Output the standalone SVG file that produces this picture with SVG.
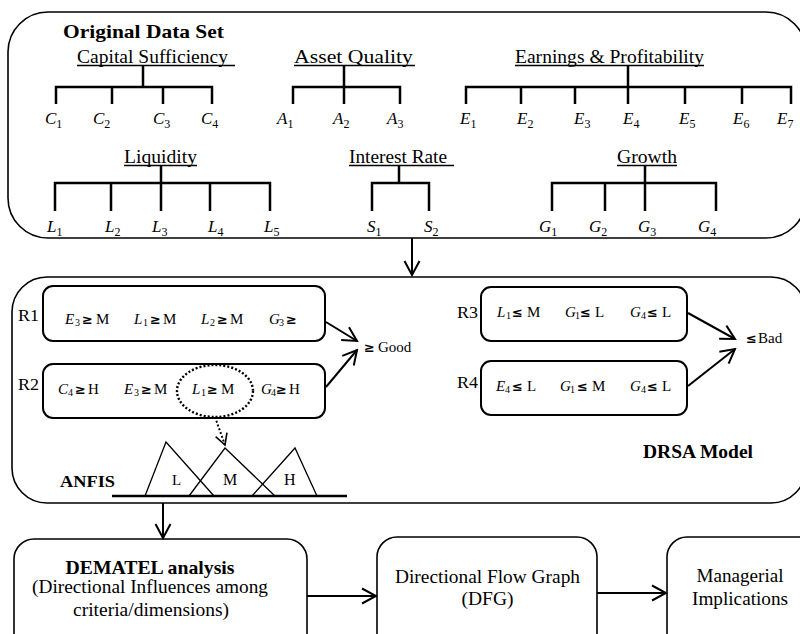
<svg xmlns="http://www.w3.org/2000/svg" width="800" height="634" viewBox="0 0 800 634" font-family="'Liberation Serif', 'DejaVu Serif', serif">
<defs>
<marker id="arr" viewBox="-16 -9 18 18" refX="0" refY="0" markerWidth="18" markerHeight="18" markerUnits="userSpaceOnUse" orient="auto">
<path d="M-14,-7.5 L0,0 L-14,7.5" fill="none" stroke="#000" stroke-width="2"/>
</marker>
<marker id="arrs" viewBox="-14 -8 16 16" refX="0" refY="0" markerWidth="16" markerHeight="16" markerUnits="userSpaceOnUse" orient="auto">
<path d="M-11,-6 L0,0 L-11,6" fill="none" stroke="#000" stroke-width="1.6"/>
</marker>
</defs>
<style>
text{fill:#000}
.t{font-size:18.5px}
.b{font-weight:bold}
.v{font-size:17px;font-style:italic}
.s{font-size:12px;font-style:normal}
.tree{stroke:#000;stroke-width:2.5;fill:none}
.ul{stroke:#000;stroke-width:1.3}
.box{fill:#fff;stroke:#000;stroke-width:1.6}
.rbox{fill:none;stroke:#000;stroke-width:2}
.rv{font-size:15px;font-style:italic}
.rs{font-size:10px;font-style:normal}
.rt{font-size:15px}
.op{font-family:"DejaVu Sans",sans-serif;font-weight:bold;font-size:13px}
.rl{font-size:17px}
.conn{stroke:#000;stroke-width:2;fill:none}
.tri{stroke:#000;stroke-width:1.3;fill:none}
.bt{font-size:19.5px}
</style>

<g id="original-data-set">
<rect class="box" x="8" y="12" width="798" height="226" rx="40"/>
<text class="b" x="63" y="38" font-size="19" textLength="161" lengthAdjust="spacingAndGlyphs">Original Data Set</text>
<text class="t" x="77" y="62.5" textLength="151" lengthAdjust="spacingAndGlyphs">Capital Sufficiency</text>
<line class="ul" x1="77" y1="65.5" x2="235" y2="65.5"/>
<text class="t" x="294" y="62.5" textLength="119" lengthAdjust="spacingAndGlyphs">Asset Quality</text>
<line class="ul" x1="294" y1="65.5" x2="415" y2="65.5"/>
<text class="t" x="515" y="62.5" textLength="189" lengthAdjust="spacingAndGlyphs">Earnings &amp; Profitability</text>
<line class="ul" x1="515" y1="65.5" x2="704" y2="65.5"/>
<text class="t" x="124" y="162.5" textLength="73" lengthAdjust="spacingAndGlyphs">Liquidity</text>
<line class="ul" x1="124" y1="165.5" x2="197" y2="165.5"/>
<text class="t" x="349" y="162.5" textLength="98" lengthAdjust="spacingAndGlyphs">Interest Rate</text>
<line class="ul" x1="349" y1="165.5" x2="454" y2="165.5"/>
<text class="t" x="617" y="162.5" textLength="60" lengthAdjust="spacingAndGlyphs">Growth</text>
<line class="ul" x1="617" y1="165.5" x2="677" y2="165.5"/>

<path class="tree" d="M143,66 V87 M56,104 V87 H212 V104 M112,87 V104 M163,87 V104"/>
<path class="tree" d="M344,66 V104 M293,104 V87 H400 V104"/>
<path class="tree" d="M628,66 V104 M466,104 V87 H791 V104 M521,87 V104 M575,87 V104 M685,87 V104 M742,87 V104"/>
<path class="tree" d="M161,166 V211 M55,211 V183 H270 V211 M111,183 V211 M210,183 V211"/>
<path class="tree" d="M399,166 V183 M372,211 V183 H429 V211"/>
<path class="tree" d="M645,166 V211 M552,211 V183 H716 V211 M605,183 V211"/>

<text class="v" x="45" y="124">C<tspan class="s" dy="3.5">1</tspan></text>
<text class="v" x="93" y="124">C<tspan class="s" dy="3.5">2</tspan></text>
<text class="v" x="153" y="124">C<tspan class="s" dy="3.5">3</tspan></text>
<text class="v" x="201" y="124">C<tspan class="s" dy="3.5">4</tspan></text>
<text class="v" x="277" y="124">A<tspan class="s" dy="3.5">1</tspan></text>
<text class="v" x="333" y="124">A<tspan class="s" dy="3.5">2</tspan></text>
<text class="v" x="387" y="124">A<tspan class="s" dy="3.5">3</tspan></text>
<text class="v" x="460" y="124">E<tspan class="s" dy="3.5">1</tspan></text>
<text class="v" x="517" y="124">E<tspan class="s" dy="3.5">2</tspan></text>
<text class="v" x="574" y="124">E<tspan class="s" dy="3.5">3</tspan></text>
<text class="v" x="623" y="124">E<tspan class="s" dy="3.5">4</tspan></text>
<text class="v" x="679" y="124">E<tspan class="s" dy="3.5">5</tspan></text>
<text class="v" x="733" y="124">E<tspan class="s" dy="3.5">6</tspan></text>
<text class="v" x="777" y="124">E<tspan class="s" dy="3.5">7</tspan></text>
<text class="v" x="47" y="232">L<tspan class="s" dy="3.5">1</tspan></text>
<text class="v" x="105" y="232">L<tspan class="s" dy="3.5">2</tspan></text>
<text class="v" x="152" y="232">L<tspan class="s" dy="3.5">3</tspan></text>
<text class="v" x="208" y="232">L<tspan class="s" dy="3.5">4</tspan></text>
<text class="v" x="264" y="232">L<tspan class="s" dy="3.5">5</tspan></text>
<text class="v" x="367" y="232">S<tspan class="s" dy="3.5">1</tspan></text>
<text class="v" x="424" y="232">S<tspan class="s" dy="3.5">2</tspan></text>
<text class="v" x="539" y="232">G<tspan class="s" dy="3.5">1</tspan></text>
<text class="v" x="589" y="232">G<tspan class="s" dy="3.5">2</tspan></text>
<text class="v" x="638" y="232">G<tspan class="s" dy="3.5">3</tspan></text>
<text class="v" x="698" y="232">G<tspan class="s" dy="3.5">4</tspan></text>
</g>

<g id="drsa-model">
<rect class="box" x="12" y="277" width="794" height="226" rx="35"/>
<text class="b" x="643" y="458" font-size="18" textLength="110" lengthAdjust="spacingAndGlyphs">DRSA Model</text>
</g>

<g id="rule-r1">
<rect class="rbox" x="43" y="286" width="282" height="55" rx="10"/>
<text class="rl" x="18" y="321" textLength="21" lengthAdjust="spacingAndGlyphs">R1</text>
<text class="rv" x="65" y="324">E</text><text class="rs" x="75" y="325.5">3</text><text class="op" x="82" y="324">≥</text><text class="rt" x="96" y="324">M</text>
<text class="rv" x="134" y="324">L</text><text class="rs" x="143" y="325.5">1</text><text class="op" x="150" y="324">≥</text><text class="rt" x="163" y="324">M</text>
<text class="rv" x="201" y="324">L</text><text class="rs" x="210" y="325.5">2</text><text class="op" x="217" y="324">≥</text><text class="rt" x="230" y="324">M</text>
<text class="rv" x="269" y="324">G</text><text class="rs" x="279" y="325.5">3</text><text class="op" x="286" y="324">≥</text>
</g>

<g id="rule-r2">
<rect class="rbox" x="43" y="364" width="282" height="54" rx="10"/>
<text class="rl" x="18" y="390" textLength="21" lengthAdjust="spacingAndGlyphs">R2</text>
<text class="rv" x="58" y="394">C</text><text class="rs" x="68" y="395.5">4</text><text class="op" x="75" y="394">≥</text><text class="rt" x="88" y="394">H</text>
<text class="rv" x="124" y="394">E</text><text class="rs" x="134" y="395.5">3</text><text class="op" x="141" y="394">≥</text><text class="rt" x="154" y="394">M</text>
<text class="rv" x="192" y="394">L</text><text class="rs" x="201" y="395.5">1</text><text class="op" x="207" y="394">≥</text><text class="rt" x="221" y="394">M</text>
<text class="rv" x="261" y="394">G</text><text class="rs" x="271" y="395.5">4</text><text class="op" x="276" y="394">≥</text><text class="rt" x="289" y="394">H</text>
<ellipse cx="215" cy="391" rx="38" ry="26" fill="none" stroke="#000" stroke-width="2.4" stroke-dasharray="2,2"/>
</g>

<g id="rule-r3">
<rect class="rbox" x="481" y="287" width="206" height="54" rx="10"/>
<text class="rl" x="457" y="318" textLength="21" lengthAdjust="spacingAndGlyphs">R3</text>
<text class="rv" x="497" y="317">L</text><text class="rs" x="506" y="318.5">1</text><text class="op" x="512" y="317">≤</text><text class="rt" x="527" y="317">M</text>
<text class="rv" x="565" y="317">G</text><text class="rs" x="575" y="318.5">1</text><text class="op" x="580" y="317">≤</text><text class="rt" x="595" y="317">L</text>
<text class="rv" x="630" y="317">G</text><text class="rs" x="641" y="318.5">4</text><text class="op" x="647" y="317">≤</text><text class="rt" x="662" y="317">L</text>
</g>

<g id="rule-r4">
<rect class="rbox" x="481" y="361" width="206" height="54" rx="10"/>
<text class="rl" x="457" y="388" textLength="21" lengthAdjust="spacingAndGlyphs">R4</text>
<text class="rv" x="496" y="391">E</text><text class="rs" x="505" y="392.5">4</text><text class="op" x="512" y="391">≤</text><text class="rt" x="527" y="391">L</text>
<text class="rv" x="560" y="391">G</text><text class="rs" x="570" y="392.5">1</text><text class="op" x="577" y="391">≤</text><text class="rt" x="592" y="391">M</text>
<text class="rv" x="630" y="391">G</text><text class="rs" x="641" y="392.5">4</text><text class="op" x="647" y="391">≤</text><text class="rt" x="662" y="391">L</text>
</g>

<g id="good">
<text class="op" x="364" y="352">≥</text><text class="rt" x="378" y="352">Good</text>
</g>
<g id="bad">
<text class="op" x="746" y="343">≤</text><text class="rt" x="758" y="343">Bad</text>
</g>

<g id="anfis">
<text class="b" x="60" y="487" font-size="17" textLength="55" lengthAdjust="spacingAndGlyphs">ANFIS</text>
<line x1="112" y1="496" x2="347" y2="496" stroke="#000" stroke-width="2.5"/>
<polyline class="tri" points="145,496 166,442 214,496"/>
<polyline class="tri" points="189,496 225,448 275,496"/>
<polyline class="tri" points="252,496 295,448 317,496"/>
<text x="172" y="485" font-size="15">L</text>
<text x="223" y="485" font-size="16">M</text>
<text x="284" y="485" font-size="16">H</text>
</g>

<g id="dematel">
<rect class="box" x="14" y="539" width="293" height="120" rx="20"/>
<text class="b bt" x="150" y="574" text-anchor="middle" textLength="169" lengthAdjust="spacingAndGlyphs">DEMATEL analysis</text>
<text class="bt" x="150" y="593" text-anchor="middle" textLength="236" lengthAdjust="spacingAndGlyphs">(Directional Influences among</text>
<text class="bt" x="151" y="616" text-anchor="middle" textLength="156" lengthAdjust="spacingAndGlyphs">criteria/dimensions)</text>
</g>

<g id="dfg">
<rect class="box" x="377" y="537" width="220" height="120" rx="20"/>
<text class="bt" x="487.5" y="583" text-anchor="middle" textLength="185" lengthAdjust="spacingAndGlyphs">Directional Flow Graph</text>
<text class="bt" x="487.5" y="605" text-anchor="middle">(DFG)</text>
</g>

<g id="managerial">
<rect class="box" x="667" y="537" width="160" height="120" rx="20"/>
<text class="bt" x="740" y="582" text-anchor="middle" textLength="87" lengthAdjust="spacingAndGlyphs">Managerial</text>
<text class="bt" x="740" y="605" text-anchor="middle" textLength="96" lengthAdjust="spacingAndGlyphs">Implications</text>
</g>

<g id="connectors">
<line class="conn" x1="412" y1="238" x2="412" y2="275" marker-end="url(#arr)"/>
<line class="conn" x1="326" y1="322" x2="357" y2="341" marker-end="url(#arr)"/>
<line class="conn" x1="326" y1="387" x2="357" y2="350" marker-end="url(#arr)"/>
<line class="conn" x1="688" y1="313" x2="735" y2="339" marker-end="url(#arr)"/>
<line class="conn" x1="688" y1="386" x2="735" y2="349" marker-end="url(#arr)"/>
<line x1="215" y1="417" x2="225" y2="445" stroke="#000" stroke-width="2" stroke-dasharray="2,2" fill="none" marker-end="url(#arrs)"/>
<line class="conn" x1="163" y1="503" x2="163" y2="538" marker-end="url(#arr)"/>
<line class="conn" x1="307" y1="596" x2="376" y2="596" marker-end="url(#arr)"/>
<line class="conn" x1="597" y1="593" x2="666" y2="593" marker-end="url(#arr)"/>
</g>
</svg>
